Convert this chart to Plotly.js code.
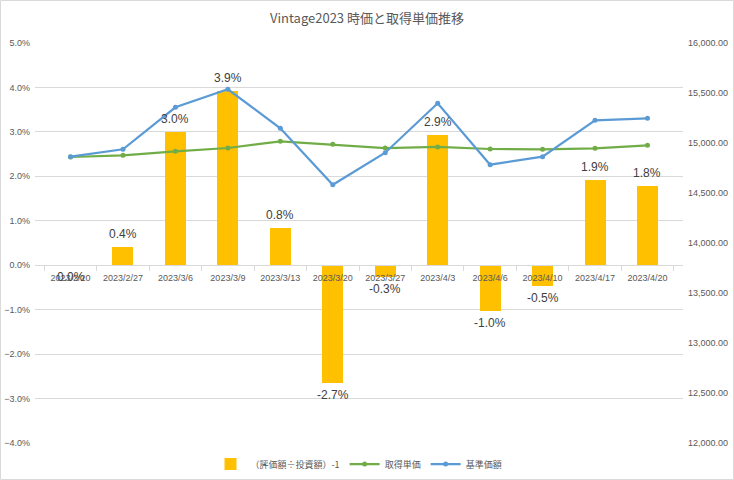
<!DOCTYPE html>
<html>
<head>
<meta charset="utf-8">
<script src="https://cdn.plot.ly/plotly-3.0.1.min.js"></script>
<style>
  html, body { margin: 0; padding: 0; background: #fff; }
  #chart { width: 734px; height: 480px; }
</style>
</head>
<body>
<div id="chart"></div>
<script>
// data
const dates = ['2023/2/20', '2023/2/27', '2023/3/6', '2023/3/9', '2023/3/13', '2023/3/20',
               '2023/3/27', '2023/4/3', '2023/4/6', '2023/4/10', '2023/4/17', '2023/4/20'];
const ratio = [0.0, 0.0042, 0.0299, 0.0393, 0.0083, -0.0266,
               -0.0027, 0.0294, -0.0104, -0.0046, 0.0191, 0.0179];
const costPrice = [14860, 14877, 14917, 14950, 15017, 14987,
                   14950, 14960, 14940, 14937, 14947, 14977];
const navPrice = [14863, 14937, 15357, 15537, 15147, 14583,
                  14903, 15397, 14783, 14863, 15227, 15247];

const barName = '（評価額÷投資額）-1';
const costName = '取得単価';
const navName = '基準価額';

const font = 'Liberation Sans, Noto Sans CJK JP, sans-serif';
const jpFont = 'Noto Sans CJK JP, sans-serif';
const gray = '#595959';
const gridColor = '#d9d9d9';

const bars = {
    x: dates,
    y: ratio,
    type: 'bar',
    name: barName,
    width: 0.4,
    marker: { color: '#ffc000' },
    yaxis: 'y',
    hoverinfo: 'skip',
};

const costTrace = {
    x: dates,
    y: costPrice,
    type: 'scatter',
    mode: 'lines+markers',
    name: costName,
    line: { color: '#70ad47', width: 2.25 },
    marker: { color: '#70ad47', size: 5 },
    yaxis: 'y2',
};

const navTrace = {
    x: dates,
    y: navPrice,
    type: 'scatter',
    mode: 'lines+markers',
    name: navName,
    line: { color: '#5b9bd5', width: 2.25 },
    marker: { color: '#5b9bd5', size: 5 },
    yaxis: 'y2',
};

const data = [bars, costTrace, navTrace];

// data labels above positive bars, below negative / zero bars
const barLabels = dates.map((d, i) => ({
    x: d,
    y: ratio[i],
    xref: 'x',
    yref: 'y',
    text: (ratio[i] * 100).toFixed(1) + '%',
    showarrow: false,
    yanchor: 'middle',
    yshift: ratio[i] > 0 ? 13 : -12,
    font: { family: font, size: 12, color: '#404040' },
}));

const layout = {
    width: 734,
    height: 480,
    paper_bgcolor: '#ffffff',
    plot_bgcolor: '#ffffff',
    margin: { t: 43, r: 51, b: 37, l: 35, autoexpand: false },
    showlegend: true,
    hovermode: false,
    bargap: 0,
    title: {
        text: 'Vintage2023 時価と取得単価推移',
        font: { family: jpFont, size: 13, color: gray },
        x: 0.5,
        xanchor: 'center',
        y: 0.962,
        yanchor: 'middle',
    },
    xaxis: {
        type: 'category',
        anchor: 'free',
        position: 0.04 / 0.09,
        showgrid: false,
        showline: true,
        linecolor: gridColor,
        linewidth: 1,
        ticks: 'outside',
        tickson: 'boundaries',
        ticklen: 5,
        tickcolor: gridColor,
        ticklabelstandoff: 4,
        tickfont: { family: font, size: 9, color: gray },
    },
    yaxis: {
        range: [-0.04, 0.05],
        dtick: 0.01,
        tickformat: '.1%',
        showgrid: true,
        gridcolor: gridColor,
        zeroline: false,
        showline: false,
        tickfont: { family: font, size: 9, color: gray },
        ticklabelstandoff: 4,
    },
    yaxis2: {
        overlaying: 'y',
        side: 'right',
        range: [12000, 16000],
        dtick: 500,
        tickformat: ',.2f',
        showgrid: false,
        zeroline: false,
        showline: false,
        tickfont: { family: font, size: 9, color: gray },
        ticklabelstandoff: 4,
    },
    legend: {
        orientation: 'h',
        x: 0.5,
        xanchor: 'center',
        y: -0.0525,
        yanchor: 'middle',
        font: { family: jpFont, size: 9, color: gray },
        itemwidth: 30,
        traceorder: 'normal',
    },
    annotations: barLabels,
    shapes: [{
        type: 'rect',
        xref: 'paper',
        yref: 'paper',
        x0: -34.5 / 648,
        x1: 698.5 / 648,
        y0: -36.5 / 400,
        y1: 442.5 / 400,
        line: { color: gridColor, width: 1 },
        fillcolor: 'rgba(0,0,0,0)',
        layer: 'below',
    }],
};

const config = {
    responsive: false,
    displayModeBar: false,
    staticPlot: true,
};

Plotly.newPlot('chart', data, layout, config);
</script>
</body>
</html>
